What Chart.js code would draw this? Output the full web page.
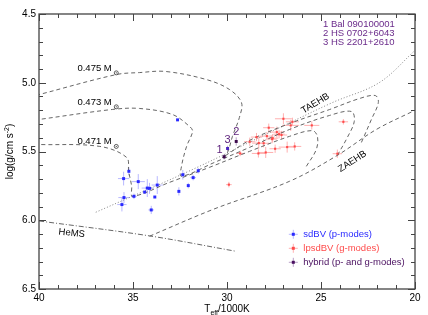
<!DOCTYPE html>
<html>
<head>
<meta charset="utf-8">
<script src="https://cdn.jsdelivr.net/npm/chart.js@4.4.0/dist/chart.umd.min.js"></script>
<style>
  html, body { margin: 0; padding: 0; background: #fff; }
  #wrap { width: 428px; height: 315px; }
</style>
</head>
<body>
<div id="wrap"><canvas id="hrd"></canvas></div>
<script>
// sdBV stars (p-modes): Teff/1000K, log g, and error bars
const sdbvTeff = [32.63, 35.22, 35.50, 34.72, 34.24, 34.12, 33.71, 34.38, 34.95, 35.48, 35.59, 33.84, 34.03, 32.35, 31.53, 31.80, 32.06, 32.56];
const sdbvLogg = [5.27, 5.644, 5.697, 5.719, 5.766, 5.768, 5.744, 5.795, 5.826, 5.835, 5.886, 5.831, 5.925, 5.669, 5.64, 5.69, 5.748, 5.79];
const sdbvErrT = [0, 0, 0.3, 0.35, 0.3, 0.2, 0.3, 0, 0.15, 0.3, 0.25, 0, 0.15, 0.1, 0, 0.15, 0, 0];
const sdbvErrG = [0, 0.03, 0.05, 0.055, 0.065, 0.04, 0.065, 0, 0.02, 0.04, 0.05, 0, 0.03, 0.035, 0.02, 0.02, 0.02, 0.03];

// lpsdBV stars (g-modes)
const lpsdbvTeff = [27.00, 26.52, 26.61, 25.49, 23.81, 27.78, 27.35, 27.23, 28.43, 28.79, 28.31, 27.88, 27.57, 27.10, 26.80, 26.40, 28.33, 27.94, 27.44, 29.30, 24.13, 29.90, 27.60, 28.05];
const lpsdbvLogg = [5.262, 5.284, 5.31, 5.31, 5.284, 5.327, 5.359, 5.374, 5.395, 5.429, 5.439, 5.388, 5.403, 5.38, 5.468, 5.463, 5.514, 5.507, 5.48, 5.514, 5.516, 5.741, 5.41, 5.44];
const lpsdbvErrT = [0.45, 0.35, 0.45, 0.4, 0.25, 0.3, 0.4, 0.3, 0.3, 0.3, 0.35, 0.35, 0.3, 0.3, 0.45, 0.35, 0.35, 0.4, 0.3, 0.2, 0.25, 0.15, 0.25, 0.3];
const lpsdbvErrG = [0.04, 0.03, 0.04, 0.03, 0.02, 0.03, 0.04, 0.03, 0.03, 0.03, 0.04, 0.03, 0.03, 0.03, 0.04, 0.03, 0.03, 0.04, 0.03, 0.02, 0.03, 0.02, 0.03, 0.03];

// hybrid pulsators
const hybridTeff = [30.15, 29.51, 29.97];
const hybridLogg = [5.538, 5.427, 5.478];
const hybridErrG = [0.02, 0.03, 0.02];
const hybridNums = ['1', '2', '3'];
const hybridNames = ['1 Bal 090100001', '2 HS 0702+6043', '3 HS 2201+2610'];

// evolutionary tracks
const track475T = [22.85, 22.32, 21.95, 22.11, 22.96, 24.55, 26.68, 28.80, 30.24, 29.97, 29.71, 29.34, 29.23, 29.87, 31.09, 33.27, 34.65, 35.87, 40.0];
const track475G = [5.434, 5.267, 5.144, 5.093, 5.115, 5.195, 5.297, 5.419, 5.543, 5.506, 5.39, 5.252, 5.144, 5.049, 4.977, 4.918, 4.926, 4.94, 5.086];
const track473T = [24.13, 23.60, 23.23, 23.38, 24.55, 26.68, 28.80, 30.66, 32.42, 32.42, 32.15, 31.83, 31.99, 32.90, 34.65, 36.08, 40.0];
const track473G = [5.528, 5.398, 5.281, 5.209, 5.238, 5.34, 5.47, 5.579, 5.68, 5.608, 5.463, 5.354, 5.318, 5.231, 5.187, 5.194, 5.267];
const track471T = [25.78, 25.25, 25.19, 25.46, 26.68, 28.80, 30.93, 33.05, 35.02, 35.07, 35.23, 35.34, 36.77, 40.0];
const track471G = [5.608, 5.485, 5.391, 5.348, 5.39, 5.499, 5.615, 5.724, 5.826, 5.753, 5.645, 5.543, 5.463, 5.449];
const trackNames = ['0.475 M', '0.473 M', '0.471 M'];

const taehbT = [36.98, 31.82, 27.21, 24.39, 21.90, 20.0];
const taehbG = [5.942, 5.63, 5.327, 5.144, 4.999, 4.765];
const zaehbT = [34.12, 30.72, 26.68, 24.13, 22.06, 20.0];
const zaehbG = [6.116, 5.92, 5.717, 5.528, 5.34, 5.2];
const hemsT = [40.0, 34.11, 29.55];
const hemsG = [6.005, 6.114, 6.225];

const pts = (xs, ys) => xs.map((x, i) => ({ x: x, y: ys[i] }));
const zeros = n => new Array(n).fill(0);

const FONT = '"Liberation Sans", Arial, Helvetica, sans-serif';

const curve = (label, xs, ys, dash, color) => ({
    type: 'line', label: label, data: pts(xs, ys), showLine: true,
    borderColor: color, borderWidth: 0.9, borderDash: dash,
    pointRadius: 0, fill: false, tension: 0.35, order: 5
});

const hrdPlugin = {
    id: 'hrdPlugin',
    beforeDatasetsDraw(chart) {
        const ctx = chart.ctx, xs = chart.scales.x, ys = chart.scales.y;
        ctx.save();
        ctx.lineWidth = 1;
        chart.data.datasets.forEach(ds => {
            if (!ds.errT) return;
            ctx.strokeStyle = ds.errColor;
            ds.data.forEach((p, i) => {
                const px = xs.getPixelForValue(p.x), py = ys.getPixelForValue(p.y);
                if (ds.errT[i]) {
                    ctx.beginPath();
                    ctx.moveTo(xs.getPixelForValue(p.x - ds.errT[i]), py);
                    ctx.lineTo(xs.getPixelForValue(p.x + ds.errT[i]), py);
                    ctx.stroke();
                }
                if (ds.errG[i]) {
                    ctx.beginPath();
                    ctx.moveTo(px, ys.getPixelForValue(p.y - ds.errG[i]));
                    ctx.lineTo(px, ys.getPixelForValue(p.y + ds.errG[i]));
                    ctx.stroke();
                }
            });
        });
        ctx.restore();
    },
    afterDraw(chart) {
        const ctx = chart.ctx, xs = chart.scales.x, ys = chart.scales.y;
        const { left, right, top, bottom } = chart.chartArea;
        ctx.save();

        // frame + inward ticks on all sides
        ctx.strokeStyle = '#444';
        ctx.lineWidth = 1.3;
        ctx.strokeRect(left, top, right - left, bottom - top);
        ctx.lineWidth = 1;
        for (let t = 20; t <= 40; t++) {
            const px = Math.round(xs.getPixelForValue(t)) + 0.5;
            const len = t % 5 === 0 ? 7 : 4;
            ctx.beginPath();
            ctx.moveTo(px, bottom); ctx.lineTo(px, bottom - len);
            ctx.moveTo(px, top); ctx.lineTo(px, top + len);
            ctx.stroke();
        }
        for (let i = 0; i <= 20; i++) {
            const py = Math.round(ys.getPixelForValue(4.5 + i * 0.1)) + 0.5;
            const len = i % 5 === 0 ? 7 : 4;
            ctx.beginPath();
            ctx.moveTo(left, py); ctx.lineTo(left + len, py);
            ctx.moveTo(right, py); ctx.lineTo(right - len, py);
            ctx.stroke();
        }

        const text = (s, x, y, font, color, align, rot) => {
            ctx.save();
            ctx.translate(x, y);
            if (rot) ctx.rotate(rot * Math.PI / 180);
            ctx.font = font;
            ctx.fillStyle = color;
            ctx.textAlign = align || 'center';
            ctx.textBaseline = 'middle';
            ctx.fillText(s, 0, 0);
            ctx.restore();
        };

        // track mass labels with sun symbol
        const sunPts = [[35.89, 4.928], [35.89, 5.175], [35.89, 5.463]];
        sunPts.forEach((s, i) => {
            const px = xs.getPixelForValue(s[0]), py = ys.getPixelForValue(s[1]);
            text(trackNames[i], px - 4.5, py - 4.8, '9.5px ' + FONT, '#000', 'right');
            ctx.strokeStyle = '#333';
            ctx.lineWidth = 0.8;
            ctx.beginPath(); ctx.arc(px, py, 2, 0, Math.PI * 2); ctx.stroke();
            ctx.fillStyle = '#333';
            ctx.fillRect(px - 0.5, py - 0.5, 1, 1);
        });

        // line labels
        text('TAEHB', xs.getPixelForValue(25.30), ys.getPixelForValue(5.151), '9.5px ' + FONT, '#000', 'center', -31);
        text('ZAEHB', xs.getPixelForValue(23.33), ys.getPixelForValue(5.572), '9.5px ' + FONT, '#000', 'center', -33);
        text('HeMS', xs.getPixelForValue(38.26), ys.getPixelForValue(6.094), '9.5px ' + FONT, '#000', 'center', 6);

        // hybrid numbers
        const offs = [[-4.5, -6.5], [0, -9.5], [0, -9]];
        hybridTeff.forEach((t, i) => {
            const px = xs.getPixelForValue(t), py = ys.getPixelForValue(hybridLogg[i]);
            text(hybridNums[i], px + offs[i][0], py + offs[i][1], '11px ' + FONT, '#5b1f7a', 'center');
        });

        // star names top right
        hybridNames.forEach((n, i) => {
            text(n, 323, 24 + i * 9.4, '9.5px ' + FONT, '#6a2a8a', 'left');
        });

        // legend
        const leg = [
            ['sdBV (p-modes)', '#2a2aff', '#b8b8ff'],
            ['lpsdBV (g-modes)', '#ff4a4a', '#ffb0b0'],
            ['hybrid (p- and g-modes)', '#4a1060', '#b9a0c8']
        ];
        leg.forEach((l, i) => {
            const y = 234.3 + i * 14;
            const x = 293.3;
            ctx.strokeStyle = l[2];
            ctx.lineWidth = 1;
            ctx.beginPath();
            ctx.moveTo(x - 4.5, y); ctx.lineTo(x + 4.5, y);
            ctx.moveTo(x, y - 4.5); ctx.lineTo(x, y + 4.5);
            ctx.stroke();
            ctx.fillStyle = l[1];
            ctx.fillRect(x - 1.5, y - 1.5, 3, 3);
            text(l[0], 303.3, y, '9.5px ' + FONT, l[1], 'left');
        });

        // x axis title: T_eff/1000K
        ctx.fillStyle = '#000';
        ctx.textBaseline = 'alphabetic';
        ctx.textAlign = 'left';
        const big = '10px ' + FONT, small = '7px ' + FONT;
        ctx.font = big; const wT = ctx.measureText('T').width, wR = ctx.measureText('/1000K').width;
        ctx.font = small; const wS = ctx.measureText('eff').width;
        let x0 = (left + right) / 2 - (wT + wS + wR) / 2;
        const yb = 312;
        ctx.font = big; ctx.fillText('T', x0, yb);
        ctx.font = small; ctx.fillText('eff', x0 + wT, yb + 2.5);
        ctx.font = big; ctx.fillText('/1000K', x0 + wT + wS, yb);

        // y axis title: log(g/cm s^-2)
        ctx.save();
        ctx.translate(13, (top + bottom) / 2);
        ctx.rotate(-Math.PI / 2);
        ctx.font = big; const w1 = ctx.measureText('log(g/cm s').width, w3 = ctx.measureText(')').width;
        ctx.font = small; const w2 = ctx.measureText('-2').width;
        x0 = -(w1 + w2 + w3) / 2;
        ctx.font = big; ctx.fillText('log(g/cm s', x0, 0);
        ctx.font = small; ctx.fillText('-2', x0 + w1, -4);
        ctx.font = big; ctx.fillText(')', x0 + w1 + w2, 0);
        ctx.restore();

        ctx.restore();
    }
};

new Chart(document.getElementById('hrd'), {
    type: 'scatter',
    data: {
        datasets: [
            curve('0.475', track475T, track475G, [4, 3], '#555'),
            curve('0.473', track473T, track473G, [4, 3], '#555'),
            curve('0.471', track471T, track471G, [4, 3], '#555'),
            curve('TAEHB', taehbT, taehbG, [1, 2], '#777'),
            curve('ZAEHB', zaehbT, zaehbG, [4, 3], '#555'),
            curve('HeMS', hemsT, hemsG, [5, 2, 1, 2], '#555'),
            {
                label: 'lpsdBV', data: pts(lpsdbvTeff, lpsdbvLogg),
                errT: lpsdbvErrT, errG: lpsdbvErrG, errColor: '#ffb0b0',
                pointStyle: 'rect', pointRadius: 1.5, borderWidth: 0,
                backgroundColor: '#ff4a4a', order: 3
            },
            {
                label: 'sdBV', data: pts(sdbvTeff, sdbvLogg),
                errT: sdbvErrT, errG: sdbvErrG, errColor: '#b8b8ff',
                pointStyle: 'rect', pointRadius: 2.1, borderWidth: 0,
                backgroundColor: '#2a2aff', order: 2
            },
            {
                label: 'hybrid', data: pts(hybridTeff, hybridLogg),
                errT: zeros(3), errG: hybridErrG, errColor: '#b9a0c8',
                pointStyle: 'rect', pointRadius: 2.1, borderWidth: 0,
                backgroundColor: ['#3d0a4d', '#3d0a4d', '#4a22c0'], order: 1
            }
        ]
    },
    options: {
        responsive: true,
        maintainAspectRatio: false,
        animation: false,
        layout: { padding: { top: 14, right: 13, left: 0, bottom: 0 } },
        plugins: { legend: { display: false }, tooltip: { enabled: false } },
        scales: {
            x: {
                type: 'linear', reverse: true, min: 20, max: 40,
                ticks: { stepSize: 5, autoSkip: false, maxRotation: 0, padding: 3, color: '#000', font: { size: 10, family: FONT } },
                grid: { display: false, drawTicks: false },
                border: { display: false },
                afterFit: s => { s.height = 26; }
            },
            y: {
                type: 'linear', reverse: true, min: 4.5, max: 6.5,
                ticks: { stepSize: 0.5, autoSkip: false, padding: 3, color: '#000', font: { size: 10, family: FONT }, callback: v => v.toFixed(1) },
                grid: { display: false, drawTicks: false },
                border: { display: false },
                afterFit: s => { s.width = 39; }
            }
        }
    },
    plugins: [hrdPlugin]
});
</script>
</body>
</html>
